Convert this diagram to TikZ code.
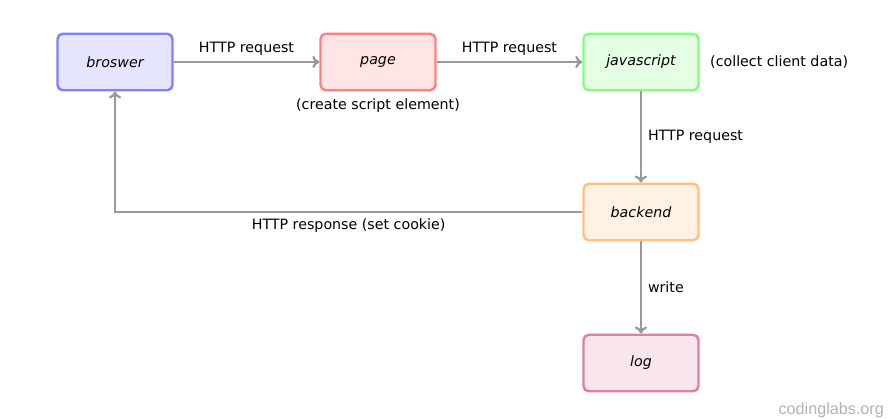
\documentclass[tikz,border=0pt]{standalone}
\usepackage{fontspec}
\setmainfont{DejaVu Sans}
\newfontfamily\markfont{Liberation Sans}
\usepackage{xcolor}
\definecolor{linegray}{HTML}{999999}
\definecolor{bluedraw}{HTML}{8080FF}
\definecolor{bluefill}{HTML}{E5E5FF}
\definecolor{reddraw}{HTML}{FF8080}
\definecolor{redfill}{HTML}{FFE5E5}
\definecolor{greendraw}{HTML}{80FF80}
\definecolor{greenfill}{HTML}{E5FFE5}
\definecolor{orangedraw}{HTML}{FFBF80}
\definecolor{orangefill}{HTML}{FFF2E5}
\definecolor{pinkdraw}{HTML}{E080A0}
\definecolor{pinkfill}{HTML}{F8E5EE}
\usetikzlibrary{arrows.meta}

\begin{document}
\begin{tikzpicture}[x=0.02cm, y=-0.02cm,
        every node/.style={font=\fontsize{8.1}{9}\selectfont},
        box/.style={rectangle, rounded corners=3pt, line width=1.4pt,
            minimum width=2.3cm, minimum height=1.13cm, font=\fontsize{8.1}{9}\selectfont\itshape},
        flow/.style={draw=linegray, line width=1.3pt, -{To[length=4pt, width=7pt]}}]
            \useasboundingbox (0,0) rectangle (894,419);

            \node (browser) at (115,62) [box, draw=bluedraw, fill=bluefill] {broswer};
            \node (page) at (378,62) [box, draw=reddraw, fill=redfill] {page};
            \node (js) at (641,62) [box, draw=greendraw, fill=greenfill] {javascript};
            \node (backend) at (641,212) [box, draw=orangedraw, fill=orangefill] {backend};
            \node (log) at (641,363) [box, draw=pinkdraw, fill=pinkfill] {log};

            \node (create) at (378,106) {(create script element)};
            \node (collect) [anchor=west] at (704,62) {(collect client data)};

            \draw[flow] (browser) -- node[above] {HTTP request} (page);
            \draw[flow] (page) -- node[above] {HTTP request} (js);
            \draw[flow] (js) -- node[right] {HTTP request} (backend);
            \draw[flow] (backend.west) -| node[pos=0.25, below] {HTTP response (set cookie)} (browser.south);
            \draw[flow] (backend) -- node[right] {write} (log);

            \node (mark) [anchor=east, text=black!30, font=\markfont\fontsize{9.2}{10}\selectfont] at (890,410) {codinglabs.org};
        \end{tikzpicture}
\end{document}
